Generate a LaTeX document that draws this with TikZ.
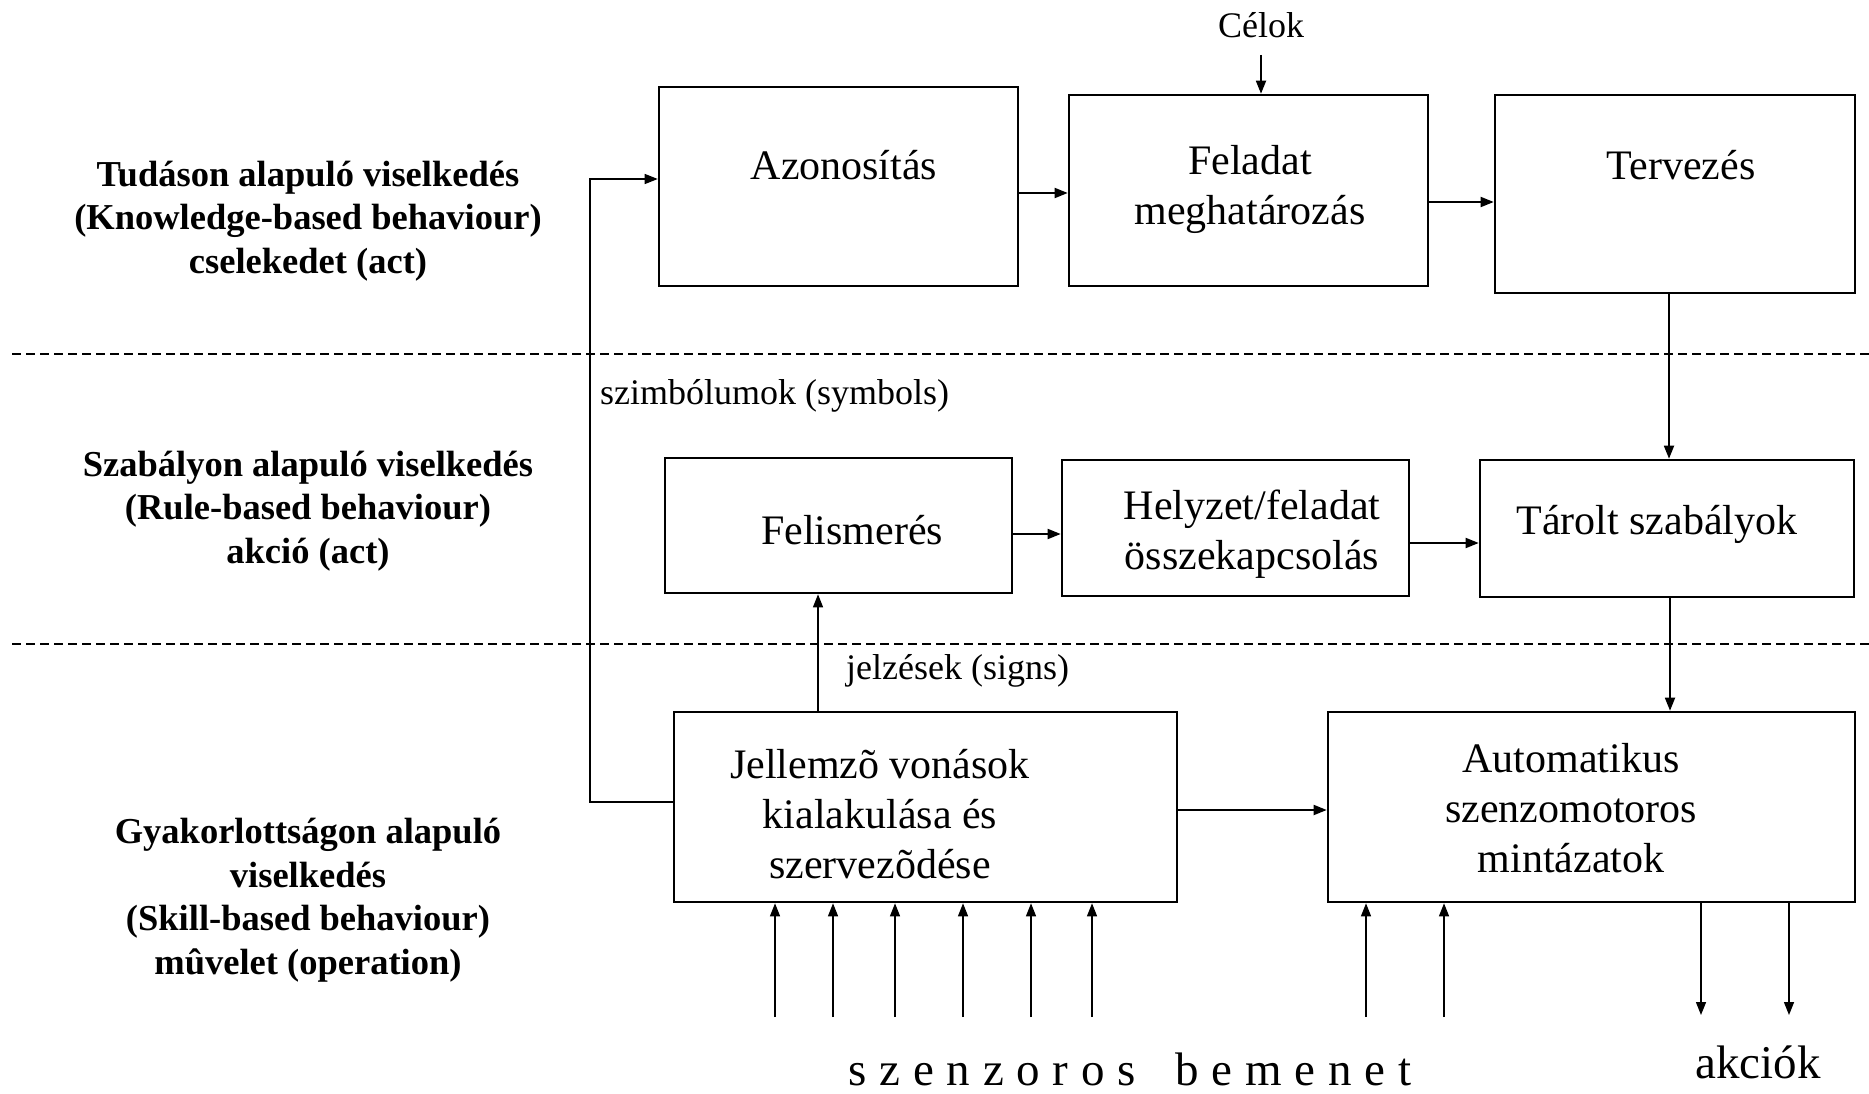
\documentclass[tikz,border=0pt]{standalone}
\usepackage{fontspec}
\setmainfont{Liberation Serif}
\usetikzlibrary{arrows.meta,fit,calc}
\tikzset{
  box/.style={draw, line width=2.6pt, inner sep=0pt},
  arr/.style={-{Triangle[length=13pt,width=10pt]}, line width=1.8pt},
  arrthin/.style={-{Triangle[length=13pt,width=10pt]}, line width=1.3pt},
  plain/.style={line width=1.8pt},
  sep/.style={line width=1.6pt, dash pattern=on 9pt off 5pt},
  lbl/.style={font=\fontsize{42}{50}\selectfont, align=center, inner sep=0pt},
  side/.style={font=\fontsize{36.5}{43.5}\selectfont\bfseries, align=center, inner sep=0pt},
  small/.style={font=\fontsize{36}{43}\selectfont, inner sep=0pt},
  big/.style={font=\fontsize{47}{56}\selectfont, inner sep=0pt}
}
\begin{document}
\begin{tikzpicture}[x=1pt,y=-1pt]
\useasboundingbox (0,0) rectangle (1869,1094);
% separators
\coordinate (s1a) at (12,354); \coordinate (s1b) at (1869,354);
\coordinate (s2a) at (12,644); \coordinate (s2b) at (1869,644);
\draw[sep] (s1a) -- (s1b);
\draw[sep] (s2a) -- (s2b);
% boxes
\node[box, fit={(659,87) (1018,286)}] (azon) {};
\node[box, fit={(1069,95) (1428,286)}] (felad) {};
\node[box, fit={(1495,95) (1855,293)}] (terv) {};
\node[box, fit={(665,458) (1012,593)}] (felis) {};
\node[box, fit={(1062,460) (1409,596)}] (helyz) {};
\node[box, fit={(1480,460) (1854,597)}] (tarolt) {};
\node[box, fit={(674,712) (1177,902)}] (jell) {};
\node[box, fit={(1328,712) (1855,902)}] (auto) {};
% box texts
\node[lbl] (tazon) at (844,165) {Azonosítás};
\node[lbl] (tfelad) at (1250,189) {Feladat\\meghatározás};
\node[lbl] (tterv) at (1681,165) {Tervezés};
\node[lbl] (tfelis) at (852,530) {Felismerés};
\node[lbl] (thelyz) at (1252,534) {Helyzet/feladat\\összekapcsolás};
\node[lbl] (ttarolt) at (1657,524) {Tárolt szabályok};
\node[lbl] (tjell) at (880,814) {Jellemzõ vonások\\kialakulása és\\szervezõdése};
\node[lbl] (tauto) at (1571,808) {Automatikus\\szenzomotoros\\mintázatok};
% side labels
\node[side] (k1) at (308,221) {Tudáson alapuló viselkedés\\(Knowledge-based behaviour)\\cselekedet (act)};
\node[side] (k2) at (308,511) {Szabályon alapuló viselkedés\\(Rule-based behaviour)\\akció (act)};
\node[side] (k3) at (308,900) {Gyakorlottságon alapuló\\viselkedés\\(Skill-based behaviour)\\mûvelet (operation)};
% other labels
\node[small] (celok) at (1261,25) {Célok};
\node[small, anchor=west] (szimb) at (600,396) {szimbólumok (symbols)};
\node[small, anchor=west] (jelz) at (846,671) {jelzések (signs)};
\node[big] (szenz) at (1130,1069) {\addfontfeature{LetterSpace=27}szenzoros\hspace{40pt}bemenet};
\node[big] (akc) at (1758,1062) {akciók};
% connectors top row
\draw[arr] (azon.east |- 0,193) -- (felad.west |- 0,193);
\draw[arr] (felad.east |- 0,202) -- (terv.west |- 0,202);
\coordinate (cst) at (1261,55);
\draw[arr] (cst) -- (cst |- felad.north);
\draw[arr] (terv.south -| 1669,0) -- (tarolt.north -| 1669,0);
% middle row
\draw[arr] (felis.east |- 0,534) -- (helyz.west |- 0,534);
\draw[arr] (helyz.east |- 0,543) -- (tarolt.west |- 0,543);
\draw[arr] (tarolt.south -| 1670,0) -- (auto.north -| 1670,0);
\draw[arrthin] (jell.north -| 818,0) -- (felis.south -| 818,0);
% bottom row
\draw[arr] (jell.east |- 0,810) -- (auto.west |- 0,810);
\coordinate (lb) at (590,802);
\coordinate (lt) at (590,179);
\draw[arrthin] (jell.west |- lb) -- (lb) -- (lt) -- (azon.west |- lt);
% sensory inputs
\foreach \x [count=\i] in {775,833,895,963,1031,1092} {
  \coordinate (inj\i) at (\x,1017);
  \draw[arrthin] (inj\i) -- (inj\i |- jell.south);
}
\foreach \x [count=\i] in {1366,1444} {
  \coordinate (ina\i) at (\x,1017);
  \draw[arrthin] (ina\i) -- (ina\i |- auto.south);
}
\foreach \x [count=\i] in {1701,1789} {
  \coordinate (out\i) at (\x,1015);
  \draw[arrthin] (out\i |- auto.south) -- (out\i);
}
\end{tikzpicture}
\end{document}
